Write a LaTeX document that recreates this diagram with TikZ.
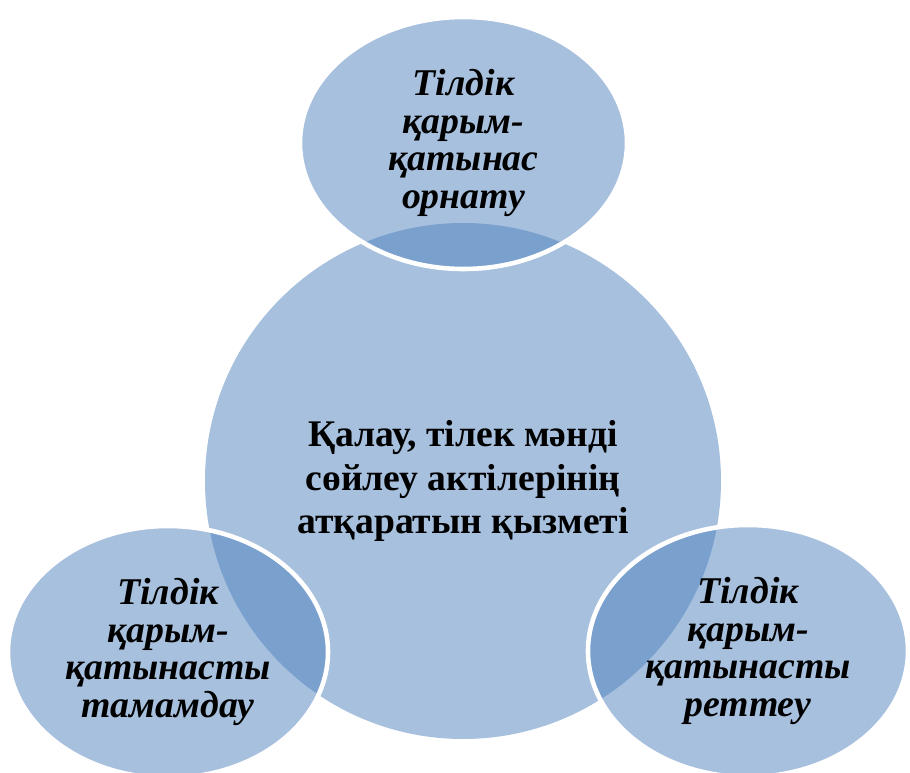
\documentclass[tikz,border=0pt]{standalone}
\usepackage{fontspec}
\setmainfont{Liberation Serif}
\usepackage{xcolor}
\usepackage{tikz}
\usetikzlibrary{shapes.geometric}
\definecolor{vennblue}{HTML}{4F81BD}
\tikzset{
    bignode/.style = {circle, fill=vennblue, fill opacity=0.5, text opacity=1, draw=none, align=center, inner sep=0pt, minimum size=10.32cm, font=\bfseries\fontsize{21.4}{25}\selectfont},
    petal/.style = {ellipse, fill=vennblue, fill opacity=0.5, text opacity=1, draw=white, draw opacity=1, line width=2.6pt, align=center, inner sep=0pt, minimum width=6.4cm, minimum height=5.04cm, font=\bfseries\itshape\fontsize{21.5}{21.4}\selectfont}
}
\begin{document}
\begin{tikzpicture}
\useasboundingbox (0,0) rectangle (18.2,15.46);
\node[bignode] at (9.26,5.84) (c) {Қалау, тілек мәнді\\сөйлеу актілерінің\\атқаратын қызметі};
%
\node[petal, minimum width=6.54cm] at (9.27,12.6) (t) {Тілдік\\қарым-\\қатынас\\орнату};
\node[petal] at (3.36,2.42) (l) {Тілдік\\қарым-\\қатынасты\\тамамдау};
\node[petal] at (14.96,2.44) (r) {Тілдік\\қарым-\\қатынасты\\реттеу};
\end{tikzpicture}
\end{document}
